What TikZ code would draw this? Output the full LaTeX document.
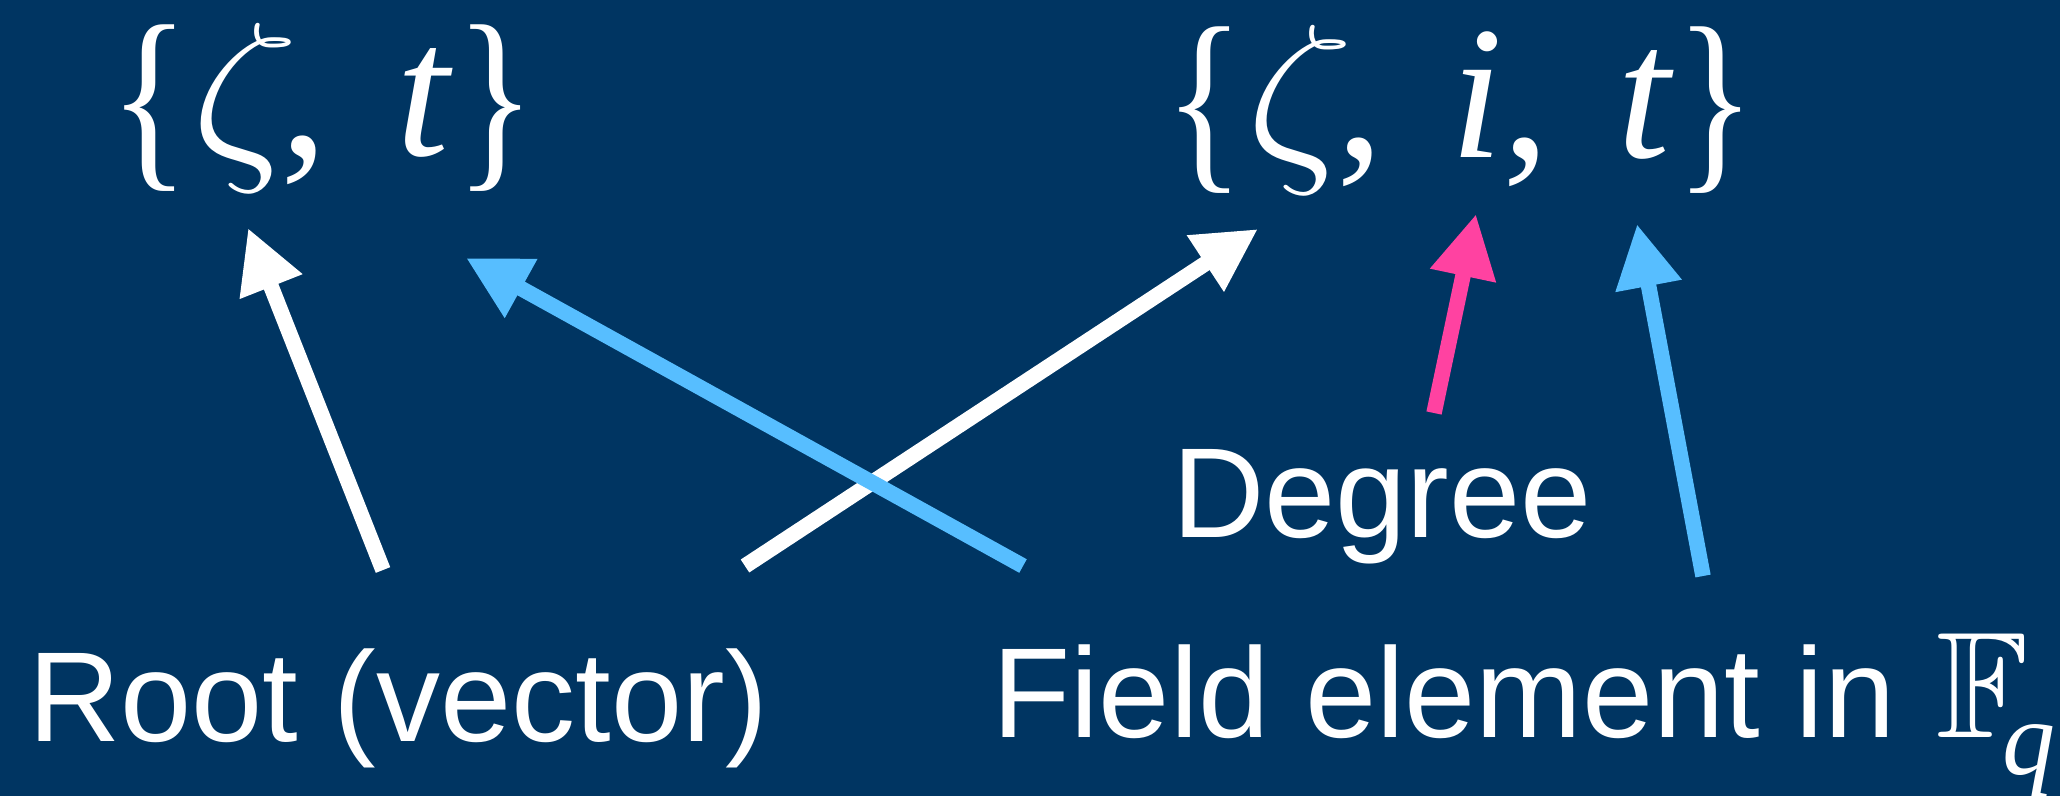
\documentclass[tikz,border=0pt]{standalone}
\usepackage{fontspec}
\usepackage{amssymb}
\usepackage{graphicx}
\setmainfont{Liberation Serif}
\newfontfamily\sansf{Liberation Sans}
\usetikzlibrary{arrows.meta}
\definecolor{bg}{RGB}{0,53,98}
\definecolor{skyb}{RGB}{87,190,255}
\definecolor{pinkm}{RGB}{255,66,161}
\newcommand{\bigbrl}{\raisebox{-9pt}{\scalebox{0.88}[1.06]{\{}}}
\newcommand{\bigbrr}{\raisebox{-9pt}{\scalebox{0.88}[1.06]{\}}}}
\newcommand{\bigzeta}{\scalebox{8.6}[7.637]{\fontsize{24.88}{26}\selectfont$\zeta$}}
\begin{document}
\begin{tikzpicture}[x=1pt,y=-1pt,
  glyph/.style={inner sep=0pt,anchor=base,text=white,font=\fontsize{190}{200}\selectfont},
  iglyph/.style={inner sep=0pt,anchor=base,text=white,font=\fontsize{190}{200}\selectfont\itshape},
  lbl/.style={inner sep=0pt,text=white,font=\sansf\fontsize{128}{140}\selectfont},
  arr/.style={line width=15.5pt,-{Triangle[length=63pt,width=63pt]}}]
\useasboundingbox (0,0) rectangle (2060,796);
\fill[bg] (0,0) rectangle (2060,796);
% left set
\node[glyph]  (lbrl) at (150,155) {\bigbrl};
\node[glyph]  (lzeta) at (245,155) {\bigzeta};
\node[glyph]  (lcomma) at (304,155) {,};
\node[iglyph] (lt) at (423,155) {t};
\node[glyph]  (lbrr) at (496,155) {\bigbrr};
% right set
\node[glyph]  (rbrl) at (1205,157) {\bigbrl};
\node[glyph]  (rzeta) at (1300,157) {\bigzeta};
\node[glyph]  (rcomma1) at (1360,157) {,};
\node[iglyph] (ri) at (1477,157) {i};
\node[glyph]  (rcomma2) at (1526,157) {,};
\node[iglyph] (rt) at (1644,157) {t};
\node[glyph]  (rbrr) at (1716,157) {\bigbrr};
% labels
\node[lbl,anchor=base west] (root) at (28,741) {Root (vector)};
\node[lbl,anchor=base east] (degree) at (1592,537) {Degree};
\node[lbl,anchor=base west] (field) at (992,737) {Field element in};
\node[inner sep=0pt,anchor=base west,text=white,font=\fontsize{151}{160}\selectfont] (Fq) at (1936,737)
  {$\mathbb{F}$\kern-26pt\raisebox{-37pt}{\fontsize{106}{110}\selectfont\itshape q}};
% arrow end points
\coordinate (rootT) at (383,570);
\coordinate (rootH) at (248,228);
\coordinate (blaT) at (1023,566);
\coordinate (blaH) at (466,258);
\coordinate (crT) at (745,566);
\coordinate (crH) at (1258,229);
\coordinate (pkT) at (1434,413);
\coordinate (pkH) at (1476,214);
\coordinate (blbT) at (1703,576);
\coordinate (blbH) at (1637,224);
% arrows
\draw[arr,white] (rootT) -- (rootH);
\draw[arr,white] (crT) -- (crH);
\draw[arr,skyb] (blaT) -- (blaH);
\draw[arr,pinkm] (pkT) -- (pkH);
\draw[arr,skyb] (blbT) -- (blbH);
\end{tikzpicture}
\end{document}
